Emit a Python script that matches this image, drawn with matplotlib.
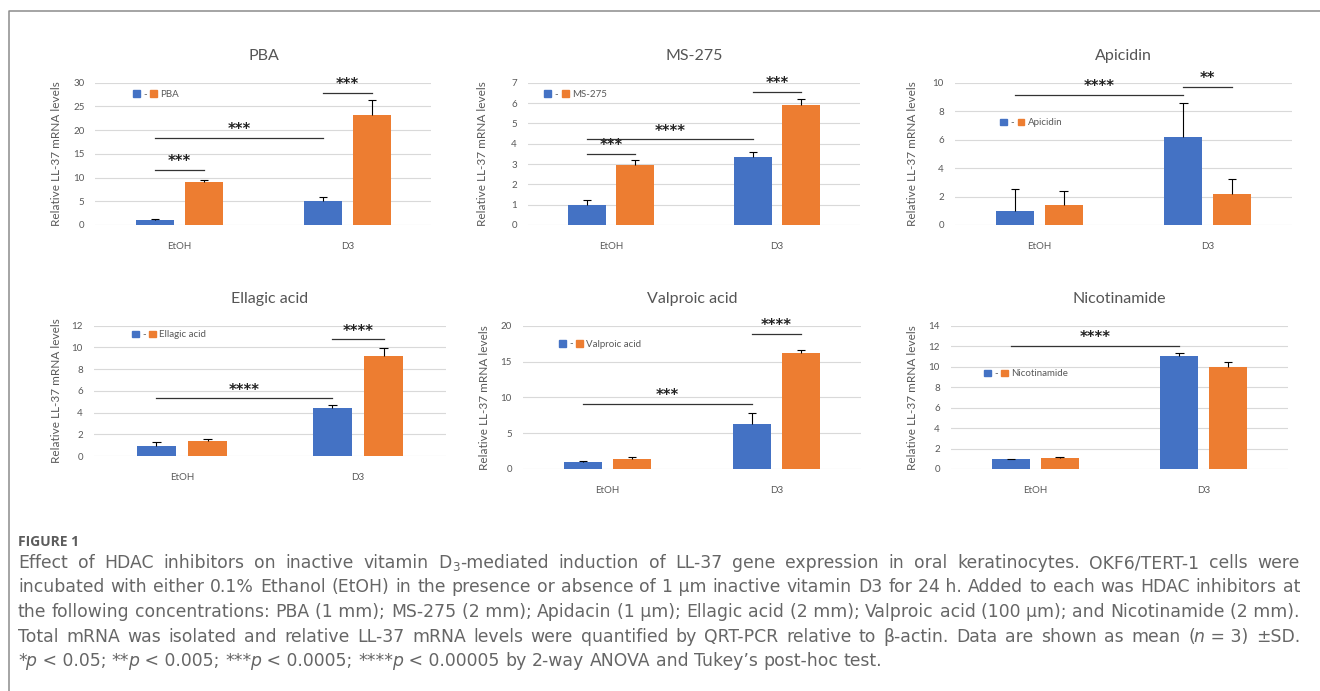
import re
import matplotlib
matplotlib.use('Agg')
import matplotlib.pyplot as plt
from matplotlib.patches import Patch
from matplotlib.lines import Line2D
import numpy as np

# figure size in pixels (dpi 100)
W, H = 1320, 691
plt.rcParams['font.family'] = ['Lato', 'DejaVu Sans']

# ---- data ----
groups = ['EtOH', 'D3']
# bar order in every panel: EtOH -, EtOH +drug, D3 -, D3 +drug
pba_mean = [1.0, 9.0, 5.0, 23.2]
pba_sd = [0.2, 0.45, 0.8, 3.1]
ms275_mean = [1.0, 2.95, 3.35, 5.9]
ms275_sd = [0.22, 0.25, 0.25, 0.3]
api_mean = [1.0, 1.4, 6.2, 2.2]
api_sd = [1.5, 1.0, 2.4, 1.05]
ella_mean = [0.92, 1.42, 4.45, 9.2]
ella_sd = [0.38, 0.12, 0.25, 0.75]
valp_mean = [1.0, 1.35, 6.25, 16.15]
valp_sd = [0.15, 0.38, 1.55, 0.5]
nico_mean = [0.95, 1.08, 11.0, 10.0]
nico_sd = [0.07, 0.1, 0.38, 0.48]

# significance brackets: (bar from, bar to, height, stars)
pba_sig = [(0, 1, 11.7, '***'), (0, 2, 18.3, '***'), (2, 3, 27.8, '***')]
ms275_sig = [(0, 1, 3.49, '***'), (0, 2, 4.21, '****'), (2, 3, 6.56, '***')]
api_sig = [(0, 2, 9.13, '****'), (2, 3, 9.72, '**')]
ella_sig = [(0, 2, 5.3, '****'), (2, 3, 10.74, '****')]
valp_sig = [(0, 2, 9.07, '***'), (2, 3, 18.9, '****')]
nico_sig = [(0, 2, 12.05, '****')]

panels = [
    ('PBA', pba_mean, pba_sd, pba_sig, 30, 5),
    ('MS-275', ms275_mean, ms275_sd, ms275_sig, 7, 1),
    ('Apicidin', api_mean, api_sd, api_sig, 10, 2),
    ('Ellagic acid', ella_mean, ella_sd, ella_sig, 12, 2),
    ('Valproic acid', valp_mean, valp_sd, valp_sig, 20, 5),
    ('Nicotinamide', nico_mean, nico_sd, nico_sig, 14, 2),
]

# ---- layout (pixels: left, top, right, bottom) ----
rects = [(95.5, 82.7, 431.5, 225), (528, 82.7, 860, 225), (955, 82.7, 1292, 225),
         (94, 325.7, 446, 456), (523, 325.7, 861, 469), (951, 325.7, 1288, 469)]
leg_pos = [(0.097, 0.918), (0.035, 0.915), (0.12, 0.717),
           (0.094, 0.93), (0.092, 0.872), (0.083, 0.663)]
ylab_px = [62, 488, 918, 62, 490, 918]

blue = '#4472C4'
orange = '#ED7D31'
gray_txt = '#595959'
grid_col = '#d9d9d9'
off, bw = 0.145, 0.225

fig = plt.figure(figsize=(W / 100, H / 100), dpi=100)

for i, (title, mean, sd, sig, ymax, ystep) in enumerate(panels):
    l, t, r, b = rects[i]
    ax = fig.add_axes([l / W, 1 - b / H, (r - l) / W, (b - t) / H])
    xg = np.arange(len(groups))
    xb = np.array([xg[0] - off, xg[0] + off, xg[1] - off, xg[1] + off])
    mean = np.array(mean)
    sd = np.array(sd)
    cols = [blue, orange, blue, orange]
    ax.bar(xb, mean, width=bw, color=cols, zorder=2)
    # plus-only error bars, excel style
    ax.vlines(xb, mean, mean + sd, color='black', lw=0.8, zorder=3)
    ax.hlines(mean + sd, xb - 0.025, xb + 0.025, color='black', lw=0.8, zorder=3)

    ax.set_xlim(-0.5, 1.5)
    ax.set_ylim(0, ymax)
    ax.set_yticks(np.arange(0, ymax + ystep / 2, ystep))
    ax.set_xticks(xg)
    ax.set_xticklabels(groups)
    ax.yaxis.grid(True, color=grid_col, lw=0.8, zorder=0)
    ax.set_axisbelow(True)
    for s in ax.spines.values():
        s.set_visible(False)
    ax.tick_params(length=0, labelsize=7, colors=gray_txt)
    ax.tick_params(axis='y', pad=8)
    ax.tick_params(axis='x', pad=12)
    ax.set_title(title, fontsize=11.5, color='#555555', pad=16)
    ax.set_ylabel('Relative LL-37 mRNA levels', fontsize=8.5, color=gray_txt)
    ax.yaxis.set_label_coords((ylab_px[i] - l) / (r - l), 0.5)

    for a, c, h, stars in sig:
        ax.plot([xb[a], xb[c]], [h, h], color='#333333', lw=0.9, zorder=4)
        ax.annotate(stars, ((xb[a] + xb[c]) / 2, h), xytext=(0, 6),
                    textcoords='offset points', ha='center', va='center',
                    fontsize=10.5, fontweight='bold', color='#222222',
                    family='DejaVu Sans')

    handles = [Patch(color=blue), Patch(color=orange)]
    ax.legend(handles, ['-', title], ncol=2, frameon=False, fontsize=7,
              loc='center left', bbox_to_anchor=leg_pos[i], borderpad=0,
              handlelength=0.7, handleheight=0.7, handletextpad=0.35,
              columnspacing=0.35, labelcolor=gray_txt)

# ---- frame lines ----
fig.add_artist(Line2D([9 / W, 9 / W, 1.0], [0.0, 1 - 10.7 / H, 1 - 10.7 / H],
                      transform=fig.transFigure, color='#8c8c8c', lw=1.1))

# ---- caption ----
cap_font = ['DejaVu Sans']
cap_col = '#666666'
cap_size = 12.4
fig.text(18 / W, 1 - 546 / H, 'FIGURE 1', fontsize=10, fontweight='bold',
         color='#5c5c5c', family=['Open Sans', 'DejaVu Sans'], va='baseline')

nb = '\u00a0'
caption_lines = [
    "Effect of HDAC inhibitors on inactive vitamin D~3~-mediated induction of LL-37 gene expression in oral keratinocytes. OKF6/TERT-1 cells were",
    f"incubated with either 0.1% Ethanol (EtOH) in the presence or absence of 1{nb}\u03bcm inactive vitamin D3 for 24{nb}h. Added to each was HDAC inhibitors at",
    f"the following concentrations: PBA (1{nb}mm); MS-275 (2{nb}mm); Apidacin (1{nb}\u03bcm); Ellagic acid (2{nb}mm); Valproic acid (100{nb}\u03bcm); and Nicotinamide (2{nb}mm).",
    f"Total mRNA was isolated and relative LL-37 mRNA levels were quantified by QRT-PCR relative to \u03b2-actin. Data are shown as mean (_n_{nb}={nb}3) \u00b1SD.",
    f"*_p_{nb}<{nb}0.05; **_p_{nb}<{nb}0.005; ***_p_{nb}<{nb}0.0005; ****_p_{nb}<{nb}0.00005 by 2-way ANOVA and Tukey\u2019s post-hoc test.",
]
baselines = [568, 592, 617, 642, 666]
x0, x1 = 18, 1300

renderer = fig.canvas.get_renderer()


def make_word(word, y):
    # split word into normal / italic / subscript pieces: (artist, shift, width)
    pieces = [p for p in re.split(r'(_[^_]+_|~[^~]+~)', word) if p]
    arts = []
    for j, p in enumerate(pieces):
        kw = dict(fontsize=cap_size, color=cap_col, family=cap_font, va='baseline')
        dy, shift = 0, 0.5
        if p.startswith('_'):
            p = p[1:-1]
            kw['style'] = 'italic'
            shift = -1.5 if j else 0
        elif p.startswith('~'):
            p = p[1:-1]
            kw['fontsize'] = cap_size * 0.7
            dy, shift = -3, 0.3
        t = fig.text(0, 1 - (y - dy) / H, p, **kw)
        wdt = t.get_window_extent(renderer).width
        arts.append((t, shift if j else 0, wdt))
    return arts


for k, line in enumerate(caption_lines):
    words = [make_word(w, baselines[k]) for w in line.split(' ')]
    widths = [sum(s + pw for _, s, pw in w) for w in words]
    last = k == len(caption_lines) - 1
    gap = 5.5 if last else (x1 - x0 - sum(widths)) / (len(words) - 1)
    x = x0
    for w, wd in zip(words, widths):
        xx = x
        for t, s, pw in w:
            xx += s
            t.set_x(xx / W)
            xx += pw
        x += wd + gap

fig.savefig('out.png', dpi=100)
